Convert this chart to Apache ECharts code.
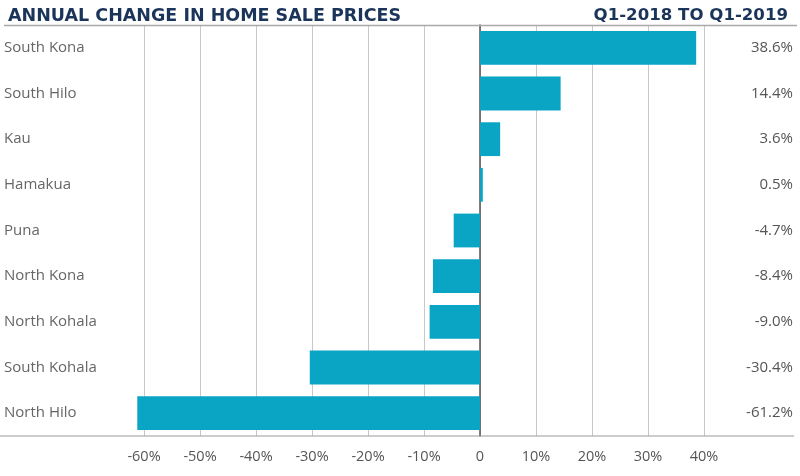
<!DOCTYPE html>
<html>
<head>
<meta charset="utf-8">
<script src="https://cdn.jsdelivr.net/npm/echarts@6/dist/echarts.min.js"></script>
<style>html,body{margin:0;padding:0;background:#fff;}#c{width:800px;height:476px;}</style>
</head>
<body>
<div id="c"></div>
<script>
var categories = ["South Kona","South Hilo","Kau","Hamakua","Puna","North Kona","North Kohala","South Kohala","North Hilo"];
var values = [38.6, 14.4, 3.6, 0.5, -4.7, -8.4, -9.0, -30.4, -61.2];
var xTicks = [-60, -50, -40, -30, -20, -10, 0, 10, 20, 30, 40];
var titleText = "ANNUAL CHANGE IN HOME SALE PRICES";
var subtitleText = "Q1-2018 TO Q1-2019";

var chart = echarts.init(document.getElementById('c'), null, {renderer:'canvas'});
var labelFont = "'Open Sans', sans-serif";
var titleFont = "'DejaVu Sans', sans-serif";
chart.setOption({
  animation: false,
  title: [
    {text: titleText, left: 3, top: 2, textStyle: {fontFamily: titleFont, fontWeight: 'bold', fontSize: 17.5, color: '#1b3459'}},
    {text: subtitleText, right: 7, top: 2, textStyle: {fontFamily: titleFont, fontWeight: 'bold', fontSize: 16.6, color: '#1b3459'}}
  ],
  graphic: [
    {type: 'line', shape: {x1: 4, y1: 25.5, x2: 797, y2: 25.5}, style: {stroke: '#a9a9a9', lineWidth: 1.5}, z: 10},
    {type: 'line', shape: {x1: 0, y1: 436, x2: 794, y2: 436}, style: {stroke: '#999', lineWidth: 1.2}, z: 10}
  ],
  grid: {left: 144, right: 96, top: 25, bottom: 40, containLabel: false},
  xAxis: {
    type: 'value', min: xTicks[0], max: xTicks[xTicks.length-1], interval: 10,
    axisLine: {show: false}, axisTick: {show: false},
    splitLine: {show: true, lineStyle: {color: '#c8c8c8', width: 1}},
    axisLabel: {margin: 13, fontFamily: labelFont, fontSize: 14.5, color: '#555',
      formatter: function(v){ return v === 0 ? '0' : v + '%'; }}
  },
  yAxis: [
    {
      type: 'category', data: categories, inverse: true,
      axisLine: {show: true, onZero: true, lineStyle: {color: '#555', width: 1.5}},
      axisTick: {show: false},
      axisLabel: {align: 'left', margin: 140, fontFamily: labelFont, fontSize: 15, color: '#666', padding: [6, 0, 0, 0]}
    },
    {
      type: 'category', data: values.map(function(v){ return v.toFixed(1) + '%'; }), inverse: true,
      position: 'right',
      axisLine: {show: false}, axisTick: {show: false},
      axisLabel: {align: 'right', margin: 89, fontFamily: labelFont, fontSize: 15, color: '#555', padding: [6, 0, 0, 0]}
    }
  ],
  series: [{
    type: 'bar', data: values, barCategoryGap: '26%', clip: false,
    itemStyle: {color: '#0aa5c4'}, z: 3
  }]
});
</script>
</body>
</html>
